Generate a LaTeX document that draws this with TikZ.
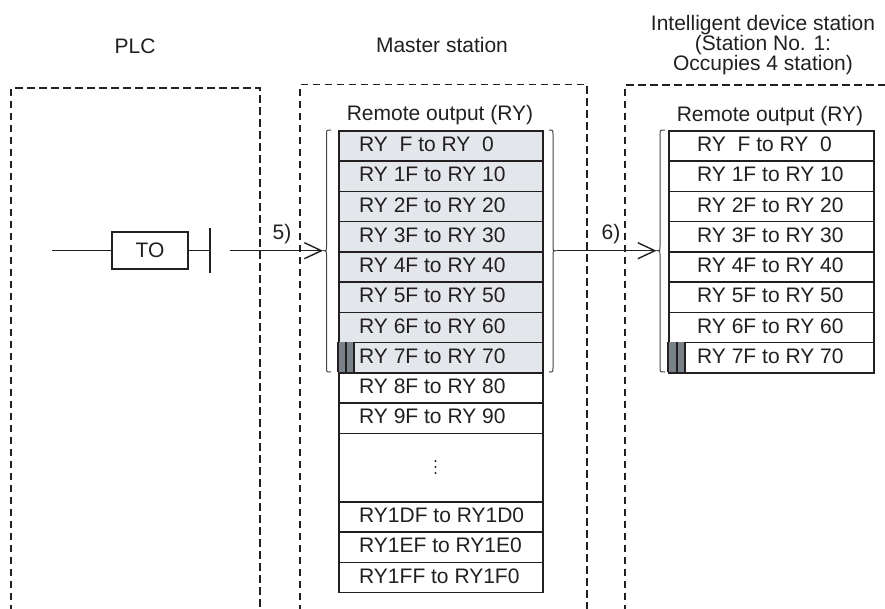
\documentclass[tikz,border=0pt]{standalone}
\usepackage{fontspec}
\setmainfont{Liberation Sans}
\usetikzlibrary{arrows.meta}
\definecolor{shade}{RGB}{227,230,234}
\definecolor{barc}{RGB}{120,130,136}
\definecolor{ink}{RGB}{35,31,32}
\definecolor{bracec}{RGB}{70,70,70}
\begin{document}
\begin{tikzpicture}[x=1pt,y=-1pt,
  font=\fontsize{21}{20}\selectfont, text=ink,
  frame/.style={draw=ink, line width=1.6pt, dash pattern=on 7.5pt off 4.5pt},
  cell/.style={draw=ink, line width=1.6pt, minimum height=30.25pt, inner sep=0pt, anchor=north west},
  mcell/.style={cell, minimum width=204pt},
  icell/.style={cell, minimum width=205pt},
  celltext/.style={anchor=base west, inner sep=0pt},
  bracepath/.style={draw=bracec, line width=1pt},
  conn/.style={draw=ink, line width=1.4pt},
  arr/.style={conn, -{Straight Barb[length=17pt,width=16pt,line width=1.4pt]}},
  title/.style={anchor=base, inner sep=0pt}]
\useasboundingbox (0,0) rectangle (885,608);

% titles
\node[title] (plc) at (135,53) {PLC};
\node[title] (mst) at (442,52) {Master station};
\node[title] (ids1) at (763,30) {Intelligent device station};
\node[title] (ids2) at (763,50) {(Station No. 1:};
\node[title] (ids3) at (763,70) {Occupies 4 station)};

% dashed frames
\draw[frame] (11,612) -- (11,88) -- (260,88) -- (260,612);
\draw[frame] (300,612) -- (300,84.5) -- (587,84.5) -- (587,612);
\draw[frame] (625,612) -- (625,85) -- (890,85);

% remote output labels
\node[title] (mro) at (440,120) {Remote output (RY)};
\node[title] (iro) at (770,121) {Remote output (RY)};

% master table
\foreach \i/\t/\f in {0/{RY\ \ F to RY\ \ 0}/shade,
                      1/{RY 1F to RY 10}/shade,
                      2/{RY 2F to RY 20}/shade,
                      3/{RY 3F to RY 30}/shade,
                      4/{RY 4F to RY 40}/shade,
                      5/{RY 5F to RY 50}/shade,
                      6/{RY 6F to RY 60}/shade,
                      7/{RY 7F to RY 70}/shade,
                      8/{RY 8F to RY 80}/white,
                      9/{RY 9F to RY 90}/white}{
  \pgfmathsetmacro\yy{130+30.25*\i}
  \node[mcell, fill=\f] (m\i) at (338,\yy) {};
  \node[celltext] (mt\i) at (359,\yy+21.7) {\t};
}
\node[mcell, minimum height=68.5pt] (mdots) at (338,432.5) {};
\foreach \d in {461,467,473}{\fill[ink] (435.5,\d) circle (1.1pt);}
\foreach \i/\t in {0/{RY1DF to RY1D0},1/{RY1EF to RY1E0},2/{RY1FF to RY1F0}}{
  \pgfmathsetmacro\yy{501+30.25*\i}
  \node[mcell] (mb\i) at (338,\yy) {};
  \node[celltext] (mbt\i) at (359,\yy+21.7) {\t};
}
\fill[barc] (338,341.75) rectangle (354,372);
\draw[ink, line width=1.4pt] (346,341.75) -- (346,372) (354,341.75) -- (354,372);
\draw[ink, line width=1.6pt] (338,341.75) -- (338,372);

% intelligent table
\foreach \i/\t in {0/{RY\ \ F to RY\ \ 0},
                   1/{RY 1F to RY 10},
                   2/{RY 2F to RY 20},
                   3/{RY 3F to RY 30},
                   4/{RY 4F to RY 40},
                   5/{RY 5F to RY 50},
                   6/{RY 6F to RY 60},
                   7/{RY 7F to RY 70}}{
  \pgfmathsetmacro\yy{130+30.25*\i}
  \node[icell, fill=white] (i\i) at (668,\yy) {};
  \node[celltext] (it\i) at (697,\yy+21.7) {\t};
}
\fill[barc] (668,341.75) rectangle (685,372);
\draw[ink, line width=1.4pt] (677,341.75) -- (677,372) (685,341.75) -- (685,372);
\draw[ink, line width=1.6pt] (668,341.75) -- (668,372);

% braces
\draw[bracepath] (331,130) .. controls (326.5,130) .. (326.5,134.5) -- (326.5,246.5)
  .. controls (326.5,250.7) .. (323,250.7) .. controls (326.5,250.7) .. (326.5,255)
  -- (326.5,367.5) .. controls (326.5,372) .. (331,372);
\draw[bracepath] (549,130) .. controls (553,130) .. (553,134.5) -- (553,246.5)
  .. controls (553,250.7) .. (556.5,250.7) .. controls (553,250.7) .. (553,255)
  -- (553,367.5) .. controls (553,372) .. (549,372);
\draw[bracepath] (665,130) .. controls (660,130) .. (660,134.5) -- (660,246.5)
  .. controls (660,250.7) .. (656.5,250.7) .. controls (660,250.7) .. (660,255)
  -- (660,367.5) .. controls (660,372) .. (665,372);
\coordinate (mlb) at (323,250.7);
\coordinate (mrb) at (556.5,250.7);
\coordinate (ilb) at (656.5,250.7);

% ladder
\coordinate (rail) at (52,250.7);
\node[draw=ink, line width=1.6pt, minimum width=76pt, minimum height=37pt, inner sep=0pt] (to) at (150,250.7) {TO};
\coordinate (contact) at (210,250.7);
\coordinate (src5) at (230,250.7);
\draw[conn] (rail) -- (to.west);
\draw[conn] (to.east) -- (contact);
\draw[ink, line width=1.6pt] (210,228) -- (210,273);

% connectors
\draw[arr] (src5) -- (mlb);
\draw[arr] (mrb) -- (ilb);
\node (l5) at (282,234) {5)};
\node (l6) at (611,234) {6)};
\end{tikzpicture}
\end{document}
